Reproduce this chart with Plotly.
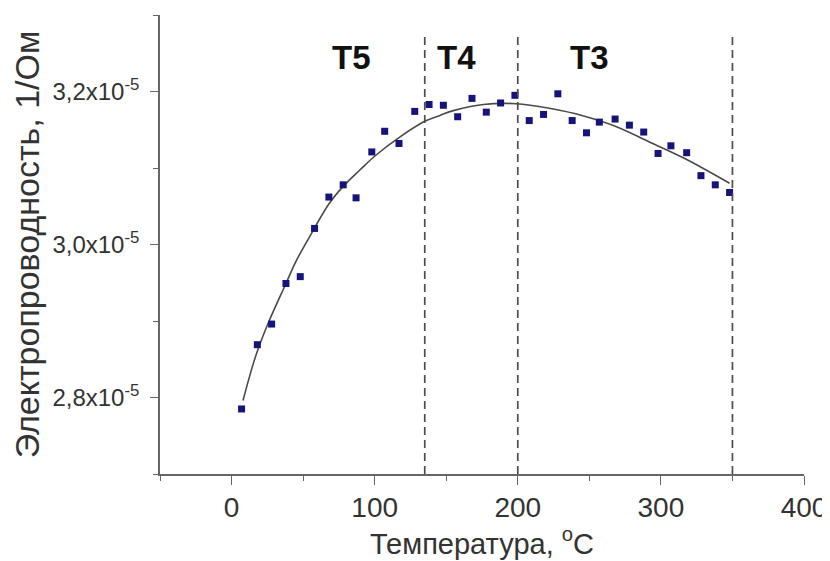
import plotly.graph_objects as go

# Measured data (temperature, °C ; conductivity in units of 1e-5 1/Ohm)
temp = [7, 18, 28, 38, 48, 58, 68, 78, 87, 98, 107, 117, 128, 138, 148, 158,
        168, 178, 188, 198, 208, 218, 228, 238, 248, 257, 268, 278, 288, 298,
        307, 318, 328, 338, 348]
cond = [2.785, 2.869, 2.896, 2.949, 2.958, 3.021, 3.062, 3.078, 3.061, 3.121,
        3.148, 3.132, 3.174, 3.183, 3.182, 3.167, 3.191, 3.173, 3.185, 3.195,
        3.162, 3.170, 3.197, 3.162, 3.146, 3.160, 3.164, 3.156, 3.147, 3.119,
        3.129, 3.120, 3.090, 3.078, 3.068]

# Fitted curve
fit_t = [8, 17, 26, 38, 45, 53, 68, 78, 90, 101, 118, 135, 146, 155, 176, 199,
         222, 246, 269, 292, 316, 348]
fit_v = [2.796, 2.855, 2.899, 2.949, 2.978, 3.005, 3.053, 3.076, 3.098, 3.117,
         3.141, 3.161, 3.169, 3.175, 3.183, 3.184, 3.178, 3.168, 3.154, 3.134,
         3.113, 3.080]

boundaries = [135, 200, 350]
zone_labels = ["T5", "T4", "T3"]
zone_label_x = [84, 157, 250]

y_tickvals = [2.8, 3.0, 3.2]
y_ticktext = ["2,8x10<sup>-5</sup>", "3,0x10<sup>-5</sup>", "3,2x10<sup>-5</sup>"]
x_tickvals = [0, 100, 200, 300, 400]

SCALE = 1e-5
FONT = "Liberation Sans, Arial, sans-serif"

fig = go.Figure()

fig.add_trace(go.Scatter(
    x=fit_t, y=[v * SCALE for v in fit_v], mode="lines",
    line=dict(color="#4a4a4a", width=1.6, shape="spline", smoothing=1.0),
    hoverinfo="skip", showlegend=False))

fig.add_trace(go.Scatter(
    x=temp, y=[v * SCALE for v in cond], mode="markers",
    marker=dict(symbol="square", size=7, color="#14147a"),
    showlegend=False))

for b in boundaries:
    fig.add_shape(type="line", x0=b, x1=b, y0=2.7 * SCALE, y1=3.274 * SCALE,
                  xref="x", yref="y",
                  line=dict(color="#4d4d4d", width=1.7, dash="8px,5px"))

for lab, lx in zip(zone_labels, zone_label_x):
    fig.add_annotation(x=lx, y=3.244 * SCALE, text=f"<b>{lab}</b>",
                       showarrow=False, xref="x", yref="y",
                       font=dict(family=FONT, size=33, color="#111111"))

fig.update_layout(
    width=830, height=561,
    margin=dict(l=152, r=34, t=7, b=95),
    paper_bgcolor="white", plot_bgcolor="white",
    font=dict(family=FONT, color="#333333"),
)

fig.update_xaxes(
    range=[-50, 400], tickvals=x_tickvals, automargin=False,
    showline=True, linecolor="#666666", linewidth=1.6,
    ticks="outside", ticklen=9, tickwidth=1.4, tickcolor="#666666",
    minor=dict(dtick=50, tick0=0, ticks="outside", ticklen=5,
               tickwidth=1.4, tickcolor="#666666"),
    showgrid=False, zeroline=False,
    ticklabelstandoff=-1,
    tickfont=dict(size=28, color="#333333"),
    title=dict(text="Температура, <sup>o</sup>C",
               font=dict(size=29, color="#333333"), standoff=10),
)

fig.update_yaxes(
    range=[2.7 * SCALE, 3.3 * SCALE], automargin=False,
    tickvals=[v * SCALE for v in y_tickvals], ticktext=y_ticktext,
    showline=True, linecolor="#666666", linewidth=1.6,
    ticks="outside", ticklen=8, tickwidth=1.4, tickcolor="#666666",
    minor=dict(dtick=0.1 * SCALE, tick0=0, ticks="outside", ticklen=5,
               tickwidth=1.4, tickcolor="#666666"),
    showgrid=False, zeroline=False,
    ticklabelstandoff=6,
    tickfont=dict(size=24, color="#333333"),
    title=dict(text="Электропроводность, 1/Ом",
               font=dict(size=34, color="#333333"), standoff=4),
)

fig.write_html("out.html")
